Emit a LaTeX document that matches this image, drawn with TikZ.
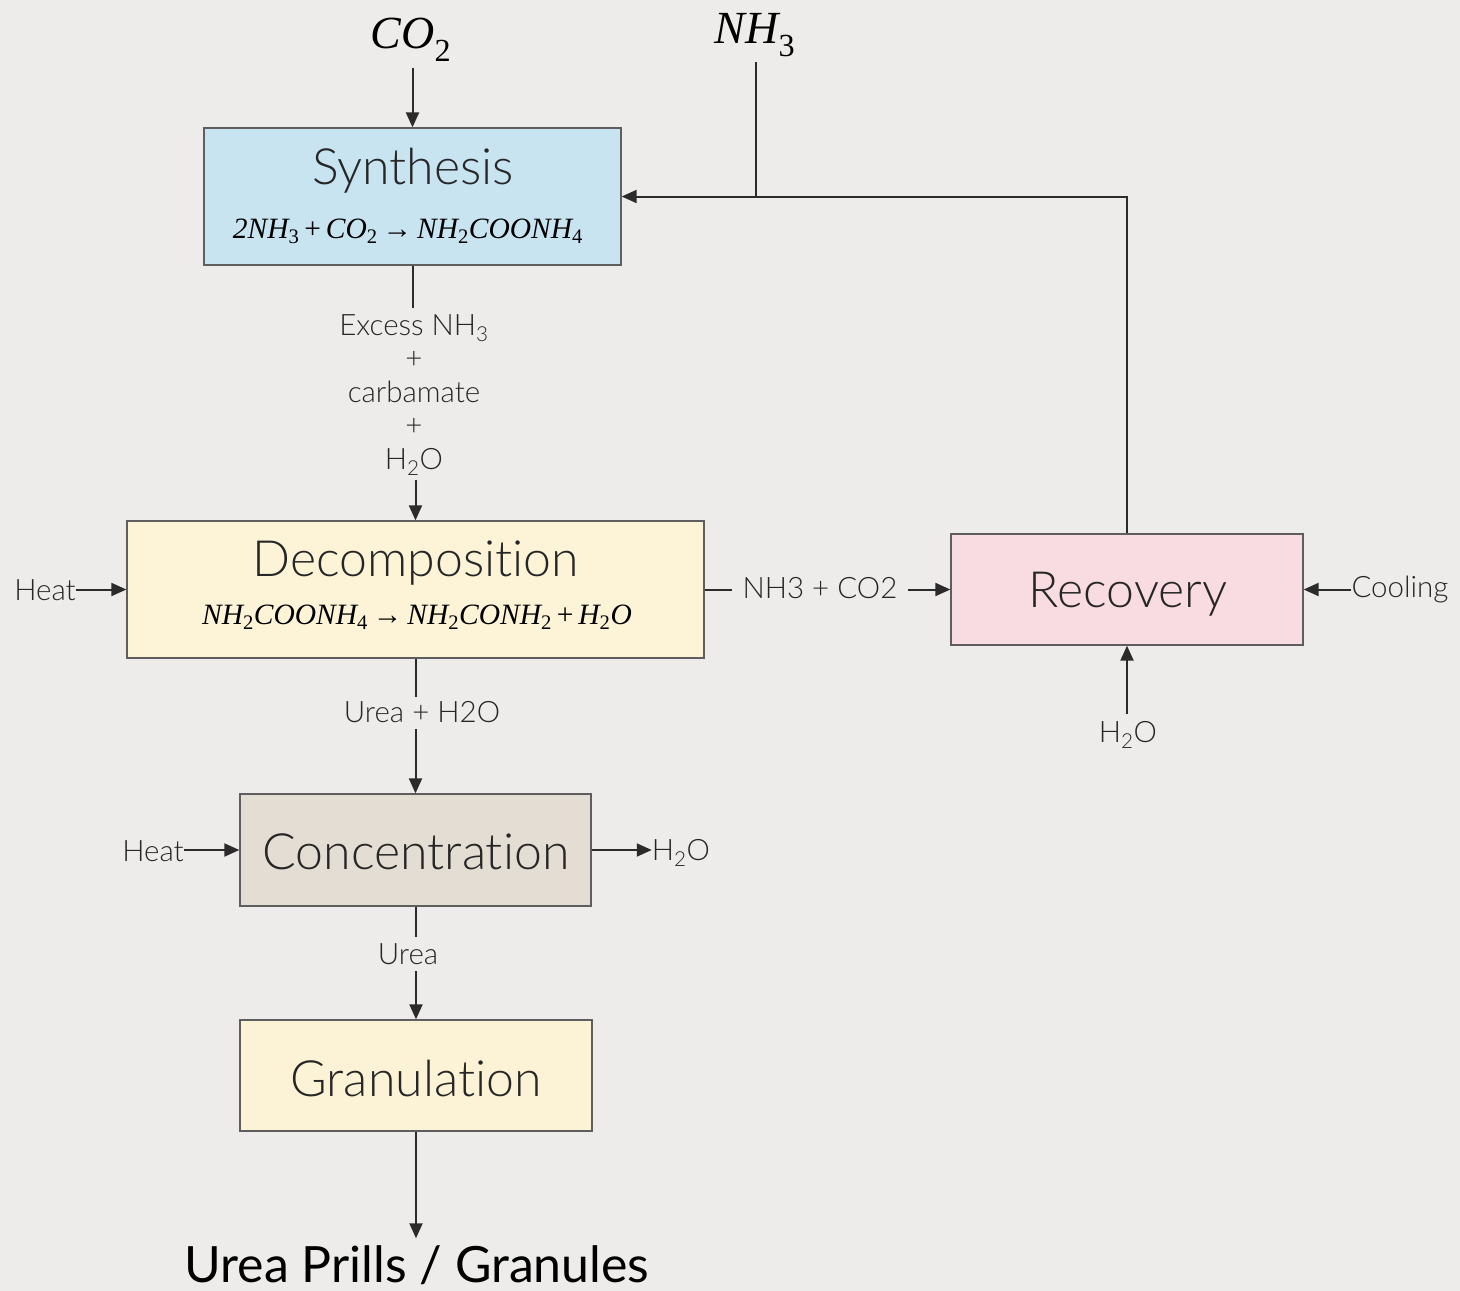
\documentclass[tikz,border=0pt]{standalone}
\usepackage{fontspec}
\setmainfont{Lato}
\newfontfamily\lightfont{Lato Light}[Ligatures={NoCommon,NoContextual}]
\newfontfamily\chemfont{Liberation Serif}
\newcommand\sbs[1]{\textsubscript{\upshape #1}}
\newcommand\chm[1]{{\chemfont\itshape #1}}
\newcommand\opr[1]{{\chemfont\upshape\,#1\,}}
\usetikzlibrary{arrows.meta}
\definecolor{bgc}{HTML}{EDECEA}
\definecolor{synf}{HTML}{C8E4F1}
\definecolor{decf}{HTML}{FDF3D7}
\definecolor{recf}{HTML}{F8DCE1}
\definecolor{concf}{HTML}{E4DDD4}
\definecolor{granf}{HTML}{FCF2D6}
\definecolor{bordc}{HTML}{5E5E5E}
\definecolor{linec}{HTML}{2B2B2B}
\definecolor{txtc}{HTML}{262626}
\tikzset{
  procbox/.style={draw=bordc, line width=1.3pt, inner sep=0pt},
  title/.style={font=\lightfont\fontsize{50}{58}\selectfont, text=txtc, inner sep=0pt},
  eqn/.style={font=\fontsize{29.5}{33}\selectfont, text=black, inner sep=0pt},
  lbl/.style={font=\lightfont\fontsize{29.5}{33.5}\selectfont, text=txtc, inner sep=0pt, align=center},
  bigm/.style={font=\fontsize{46}{52}\selectfont, text=black, inner sep=0pt},
  flow/.style={draw=linec, line width=2pt},
  arr/.style={flow, -{Triangle[length=15pt,width=13pt]}},
}
\begin{document}
\begin{tikzpicture}[x=1pt,y=-1pt]
\useasboundingbox (0,0) rectangle (1460,1291);
\fill[bgc] (0,0) rectangle (1460,1291);

% boxes
\node[procbox, fill=synf, minimum width=417pt, minimum height=137pt] (syn) at (412.5,196.5) {};
\node[title] (synt) at (413,171) {Synthesis};
\node[eqn] (syne) at (408,231) {\chm{2NH\sbs{3}}\opr{+}\chm{CO\sbs{2}}\opr{→}\chm{NH\sbs{2}COONH\sbs{4}}};

\node[procbox, fill=decf, minimum width=577pt, minimum height=137pt] (dec) at (415.5,589.5) {};
\node[title] (dect) at (416,563) {Decomposition};
\node[eqn] (dece) at (417,617) {\chm{NH\sbs{2}COONH\sbs{4}}\opr{→}\chm{NH\sbs{2}CONH\sbs{2}}\opr{+}\chm{H\sbs{2}O}};

\node[procbox, fill=recf, minimum width=352pt, minimum height=111pt] (rec) at (1127,589.5) {};
\node[title] (rect) at (1128,594) {Recovery};

\node[procbox, fill=concf, minimum width=351pt, minimum height=112pt] (conc) at (415.5,850) {};
\node[title] (conct) at (416,852) {Concentration};

\node[procbox, fill=granf, minimum width=352pt, minimum height=111pt] (gran) at (416,1075.5) {};
\node[title] (grant) at (416,1078) {Granulation};

% labels
\node[bigm] (co2) at (411,40) {\chm{CO\sbs{2}}};
\node[bigm] (nh3) at (755,35) {\chm{NH\sbs{3}}};
\node[lbl] (exc) at (414,395) {Excess NH\textsubscript{3}\\+\\carbamate\\+\\H\textsubscript{2}O};
\node[lbl] (heat1) at (45,590) {Heat};
\node[lbl] (nc) at (820,588) {NH3 + CO2};
\node[lbl] (cool) at (1400,589) {Cooling};
\node[lbl] (h2o3) at (1128,735) {H\textsubscript{2}O};
\node[lbl] (uh) at (422,712) {Urea + H2O};
\node[lbl] (heat2) at (153,851) {Heat};
\node[lbl] (h2o2) at (681,853) {H\textsubscript{2}O};
\node[lbl] (urea) at (408,954) {Urea};
\node[font=\fontsize{50}{56}\selectfont, text=black, inner sep=0pt] (prod) at (417,1265) {Urea Prills / Granules};

% connectors
\draw[arr, shorten <=6pt] (syn.north |- co2.south) -- (syn.north);
\draw[flow, shorten <=5pt] (nh3.south -| 756,0) -- (756,197);
\draw[arr] (rec.north) |- (syn.east);
\draw[flow, shorten >=6pt] (syn.south) -- (syn.south |- exc.north);
\draw[arr, shorten <=4pt] (dec.north |- exc.south) -- (dec.north);
\draw[arr] (dec.west -| heat1.east) -- (dec.west);
\draw[flow, shorten >=10pt] (dec.east) -- (dec.east -| nc.west);
\draw[arr, shorten <=10pt] (rec.west -| nc.east) -- (rec.west);
\draw[arr] (rec.east -| cool.west) -- (rec.east);
\draw[arr, shorten <=7pt] (rec.south |- h2o3.north) -- (rec.south);
\draw[flow, shorten >=4pt] (dec.south) -- (dec.south |- uh.north);
\draw[arr, shorten <=6pt] (conc.north |- uh.south) -- (conc.north);
\draw[arr] (conc.west -| heat2.east) -- (conc.west);
\draw[arr] (conc.east) -- (conc.east -| h2o2.west);
\draw[flow, shorten >=6pt] (conc.south) -- (conc.south |- urea.north);
\draw[arr, shorten <=6pt] (gran.north |- urea.south) -- (gran.north);
\draw[arr, shorten >=7pt] (gran.south) -- (gran.south |- prod.north);
\end{tikzpicture}
\end{document}
